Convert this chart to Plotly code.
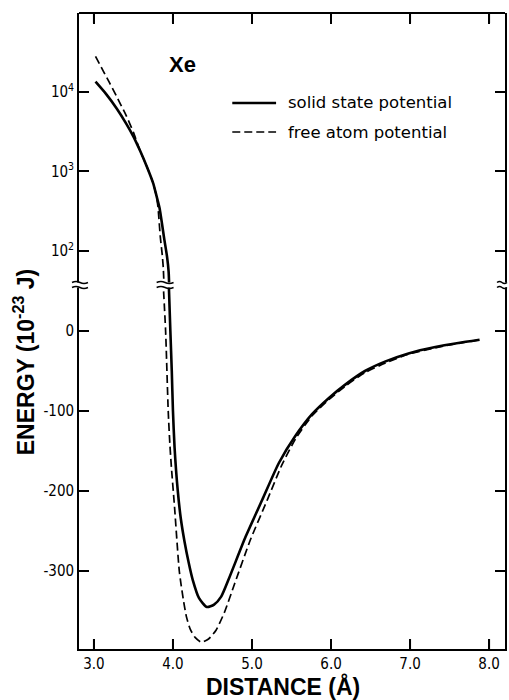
import plotly.graph_objects as go

# ---- data ----
x_solid_upper = [3.02, 3.15, 3.29, 3.41, 3.50, 3.58, 3.67, 3.75, 3.79, 3.83, 3.89, 3.925, 3.945, 3.955]
e_solid_upper = [13500, 9550, 6170, 3980, 2750, 1860, 1150, 710, 500, 347, 141, 85, 55, 30]

x_free_upper = [3.02, 3.11, 3.20, 3.30, 3.41, 3.50, 3.58, 3.67, 3.75, 3.79, 3.81, 3.84, 3.865, 3.878, 3.89]
e_free_upper = [28000, 19000, 12900, 8300, 5000, 3100, 1860, 1150, 710, 490, 360, 150, 88, 60, 30]

x_solid_lower = [3.945, 3.967, 3.985, 4.00, 4.02, 4.06, 4.10, 4.146, 4.20, 4.25, 4.33, 4.43, 4.52,
                 4.61, 4.71, 4.92, 5.13, 5.34, 5.55, 5.76, 5.97, 6.18, 6.43, 6.69, 6.98,
                 7.32, 7.61, 7.88]
e_solid_lower = [65, 0, -50, -100, -145, -199, -235, -263, -290, -311, -334, -345, -342,
                 -332, -309, -257, -211, -165, -131, -104, -84, -67, -50, -38, -28,
                 -20, -15, -11]

x_free_lower = [3.873, 3.907, 3.94, 3.96, 3.98, 4.02, 4.08, 4.13, 4.17, 4.22, 4.28, 4.36, 4.45,
                4.545, 4.65, 4.78, 4.98, 5.19, 5.38, 5.55, 5.76, 5.97, 6.18, 6.43, 6.69, 6.98,
                7.32, 7.61, 7.88]
e_free_lower = [65, 0, -100, -140, -170, -220, -300, -335, -357, -373, -383, -389, -385,
                -374, -352, -316, -261, -212, -167, -135, -106, -86, -69, -52, -40, -29,
                -21, -15.5, -11]

x_ticks = [3, 4, 5, 6, 7, 8]
x_tick_labels = ["3.0", "4.0", "5.0", "6.0", "7.0", "8.0"]
y_lin_ticks = [-300, -200, -100, 0]
y_lin_labels = ["-300", "-200", "-100", "0"]
y_log_ticks = [100, 1000, 10000]
y_log_labels = ["10<sup>2</sup>", "10<sup>3</sup>", "10<sup>4</sup>"]

series_names = ["solid state potential", "free atom potential"]

# ---- layout geometry ----
W, H = 509, 700
ML, MR, MT, MB = 79, 2, 13, 51
PW, PH = W - ML - MR, H - MT - MB
BREAK_PY = 285
X_RANGE = [2.811, 8.2015]
TICK_LEN = 10


def px(xp):
    return (xp - ML) / PW


def py(yp):
    return (H - MB - yp) / PH


split = py(BREAK_PY)

tick_font = dict(family="Liberation Sans Narrow, DejaVu Sans Condensed, Arial", size=15, color="black")
title_font = dict(family="Liberation Sans, Arial", size=23, color="black")
legend_font = dict(family="DejaVu Sans", size=16.5, color="black")

fig = go.Figure()

solid_line = dict(color="black", width=2.6, shape="spline", smoothing=0.6)
free_line = dict(color="black", width=1.7, dash="8px,4px", shape="spline", smoothing=0.6)

fig.add_trace(go.Scatter(x=x_solid_upper, y=e_solid_upper, mode="lines", line=solid_line,
                         xaxis="x2", yaxis="y2", name=series_names[0], showlegend=False))
fig.add_trace(go.Scatter(x=x_solid_lower, y=e_solid_lower, mode="lines", line=solid_line,
                         xaxis="x", yaxis="y", name=series_names[0], showlegend=False))
fig.add_trace(go.Scatter(x=x_free_upper, y=e_free_upper, mode="lines", line=free_line,
                         xaxis="x2", yaxis="y2", name=series_names[1], showlegend=False))
fig.add_trace(go.Scatter(x=x_free_lower, y=e_free_lower, mode="lines", line=free_line,
                         xaxis="x", yaxis="y", name=series_names[1], showlegend=False))

axis_common = dict(showline=True, linecolor="black", linewidth=1.8, ticks="inside",
                   tickcolor="black", tickwidth=2, ticklen=TICK_LEN, showgrid=False,
                   zeroline=False, tickfont=tick_font, tickmode="array")

fig.update_layout(
    width=W, height=H,
    margin=dict(l=ML, r=MR, t=MT, b=MB),
    paper_bgcolor="white", plot_bgcolor="white",
    xaxis=dict(domain=[0, 1], anchor="y", range=X_RANGE, tickvals=x_ticks,
               ticktext=x_tick_labels, **axis_common),
    xaxis2=dict(domain=[0, 1], anchor="free", position=1, range=X_RANGE, side="top",
                tickvals=x_ticks, ticktext=[""] * len(x_ticks), **axis_common),
    yaxis=dict(domain=[0, split], anchor="x", range=[-397.5, 57.5], tickvals=y_lin_ticks,
               ticktext=y_lin_labels, mirror="ticks", **axis_common),
    yaxis2=dict(domain=[split, 1], anchor="x2", type="log", range=[1.572, 4.994],
                tickvals=y_log_ticks, ticktext=y_log_labels, mirror="ticks", **axis_common),
    showlegend=False,
)

annotations = [
    dict(text="<b>Xe</b>", x=px(183), y=py(64), xref="paper", yref="paper",
         xanchor="center", yanchor="middle",
         showarrow=False, font=dict(family="Liberation Sans, Arial", size=22, color="black")),
    dict(text="<b>DISTANCE (Å)</b>", x=px(283.5), y=py(686), xref="paper", yref="paper",
         xanchor="center", yanchor="middle", showarrow=False, font=title_font),
    dict(text="<b>ENERGY (10<sup>-23</sup> J)</b>", x=px(24), y=py(362), xref="paper",
         yref="paper", xanchor="center", yanchor="middle", textangle=-90, showarrow=False,
         font=title_font),
    # legend texts
    dict(text=series_names[0], x=px(287), y=py(103), xref="paper", yref="paper",
         xanchor="left", yanchor="middle", showarrow=False, font=legend_font),
    dict(text=series_names[1], x=px(287), y=py(132), xref="paper", yref="paper",
         xanchor="left", yanchor="middle", showarrow=False, font=legend_font),
]
fig.update_layout(annotations=annotations)


def wave(x0, x1, yp, amp=2.0):
    """Wavy break stroke from pixel x0 to x1 at pixel height yp (paper coords)."""
    w = x1 - x0
    return ("M {:.5f},{:.5f} Q {:.5f},{:.5f} {:.5f},{:.5f} T {:.5f},{:.5f}".format(
        px(x0), py(yp), px(x0 + w * 0.25), py(yp - amp), px(x0 + w * 0.5), py(yp),
        px(x1), py(yp)))


shapes = []
# x tick marks on bottom and top frame edges (drawn at the tick values)
for t in x_ticks:
    shapes.append(dict(type="line", xref="x", yref="paper", x0=t, x1=t, y0=0,
                       y1=TICK_LEN / PH, line=dict(color="black", width=2), layer="above"))
    shapes.append(dict(type="line", xref="x", yref="paper", x0=t, x1=t, y0=1 - TICK_LEN / PH,
                       y1=1, line=dict(color="black", width=2), layer="above"))
# legend samples
shapes.append(dict(type="line", xref="paper", yref="paper", x0=px(233), x1=px(277),
                   y0=py(103), y1=py(103), line=dict(color="black", width=2.6)))
shapes.append(dict(type="line", xref="paper", yref="paper", x0=px(233), x1=px(277),
                   y0=py(132), y1=py(132), line=dict(color="black", width=1.7, dash="8px,4px")))
# axis / curve breaks
for (bx0, bx1) in [(72, 88), (157, 174), (499, 509)]:
    shapes.append(dict(type="rect", xref="paper", yref="paper", x0=px(bx0), x1=px(bx1),
                       y0=py(BREAK_PY + 2.5), y1=py(BREAK_PY - 2.5), fillcolor="white",
                       line=dict(width=0), layer="above"))
    for off in (-2.5, 2.5):
        shapes.append(dict(type="path", xref="paper", yref="paper",
                           path=wave(bx0, bx1, BREAK_PY + off), line=dict(color="black", width=1.5),
                           layer="above"))
fig.update_layout(shapes=shapes)

fig.write_html("out.html")
